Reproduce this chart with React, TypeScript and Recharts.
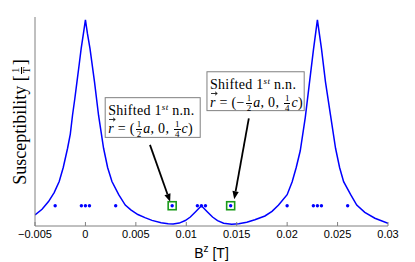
import React from 'react';
import { ComposedChart, Line, Scatter, XAxis, YAxis, ReferenceLine, ReferenceArea, Label } from 'recharts';

// susceptibility curve (arbitrary units, 0..1)
const curveX = [
  -0.005, -0.0043, -0.00366, -0.0031, -0.0026, -0.0022, -0.00177, -0.0015, -0.00128, -0.00105,
  -0.00084, -0.0006, -0.00042, -0.0002, 0, 0.0002, 0.00045, 0.0009, 0.0013, 0.0018,
  0.0022, 0.00263, 0.0033, 0.00395, 0.0045, 0.0052, 0.0059, 0.0066, 0.0075, 0.0082,
  0.0087, 0.0093, 0.0099, 0.0104, 0.0109, 0.0115, 0.0121, 0.0126, 0.0131, 0.0137,
  0.0145, 0.0152, 0.016, 0.0168, 0.0178, 0.0185, 0.01915, 0.02, 0.0205, 0.0209,
  0.0213, 0.0218, 0.0222, 0.0226, 0.023, 0.0234, 0.0238, 0.0243, 0.0248, 0.0252,
  0.0256, 0.0263, 0.0269, 0.0277, 0.0287, 0.03,
];
const curveY = [
  0.053, 0.08, 0.117, 0.16, 0.213, 0.28, 0.372, 0.44, 0.53, 0.61,
  0.69, 0.78, 0.85, 0.92, 0.986, 0.92, 0.85, 0.69, 0.53, 0.372,
  0.28, 0.213, 0.15, 0.1, 0.077, 0.055, 0.04, 0.027, 0.016, 0.011,
  0.01, 0.014, 0.026, 0.043, 0.067, 0.097, 0.067, 0.043, 0.026, 0.013,
  0.008, 0.011, 0.018, 0.03, 0.048, 0.07, 0.1, 0.15, 0.212, 0.28,
  0.36, 0.52, 0.68, 0.84, 0.986, 0.85, 0.69, 0.53, 0.372, 0.28,
  0.212, 0.15, 0.1, 0.065, 0.037, 0.013,
];

// transition fields (blue dots)
const dotX = [-0.003, -0.0004, 0, 0.0004, 0.003, 0.0086, 0.0111, 0.0115, 0.0119, 0.0144, 0.02, 0.0226, 0.023, 0.0234, 0.026];
const dotY = [0.097, 0.097, 0.097, 0.097, 0.097, 0.097, 0.097, 0.097, 0.097, 0.097, 0.097, 0.097, 0.097, 0.097, 0.097];

// shifted 1st n.n. (green squares)
const markedX = [0.0086, 0.0144];
const markedY = [0.097, 0.097];

const xTicks = [-0.005, 0, 0.005, 0.01, 0.015, 0.02, 0.025, 0.03];

// annotation boxes and arrows, in data units
const boxX1 = [0.00196, 0.01205];
const boxX2 = [0.01138, 0.02169];
const boxY1 = [0.424, 0.552];
const boxY2 = [0.614, 0.738];
const boxSign = ['', '\u2212'];
const arrowFromX = [0.0064, 0.0162];
const arrowFromY = [0.388, 0.515];
const arrowToX = [0.0084, 0.01475];
const arrowToY = [0.116, 0.128];

const curve = curveX.map((x, i) => ({ x, y: curveY[i] }));
const dots = dotX.map((x, i) => ({ x, y: dotY[i] }));
const marked = markedX.map((x, i) => ({ x, y: markedY[i] }));

const SERIF = '"Liberation Serif", "Times New Roman", serif';
const SANS = '"Liberation Sans", Arial, sans-serif';
const FRAME = '#808080';

function Frac({ n, d, size }: { n: string; d: string; size: number }) {
  return (
    <span
      style={{
        display: 'inline-flex',
        flexDirection: 'column',
        alignItems: 'center',
        verticalAlign: 'middle',
        fontSize: size,
        lineHeight: 1,
        margin: '0 1px',
        letterSpacing: 0,
      }}
    >
      <span style={{ borderBottom: '0.8px solid #000', padding: '0 1px' }}>{n}</span>
      <span style={{ padding: '0 1px' }}>{d}</span>
    </span>
  );
}

// italic r with a vector arrow drawn above it
function VecR() {
  return (
    <span style={{ position: 'relative', fontStyle: 'italic', display: 'inline-block' }}>
      r
      <svg width={7} height={5} style={{ position: 'absolute', left: 1, top: -2 }}>
        <line x1={0} y1={2.5} x2={6} y2={2.5} stroke="#000" strokeWidth={0.8} />
        <polyline points="4,0.8 6.3,2.5 4,4.2" fill="none" stroke="#000" strokeWidth={0.8} />
      </svg>
    </span>
  );
}

const makeBox = (sign: string) => (p: any) => {
  const { x, y, width, height } = p;
  return (
    <g>
      <rect x={x} y={y} width={width} height={height} fill="#fff" stroke={FRAME} strokeWidth={1} />
      <foreignObject x={x} y={y} width={width} height={height}>
        <div
          style={{
            fontFamily: SERIF,
            fontSize: 14,
            letterSpacing: 0.3,
            color: '#000',
            padding: '1px 0 0 3px',
            whiteSpace: 'nowrap',
          }}
        >
          <div style={{ lineHeight: '16px' }}>
            Shifted 1<sup style={{ fontSize: 9, fontStyle: 'italic', verticalAlign: 5 }}>st</sup> n.n.
          </div>
          <div style={{ lineHeight: '20px' }}>
            <VecR /> = ({sign}
            <Frac n="1" d="2" size={9} />
            <i>a</i>, 0, <Frac n="1" d="4" size={9} />
            <i>c</i>)
          </div>
        </div>
      </foreignObject>
    </g>
  );
};

const Arrow = (p: any) => {
  const { x1, y1, x2, y2 } = p;
  const a = Math.atan2(y2 - y1, x2 - x1);
  const len = 8;
  const w = 3.2;
  const bx = x2 - len * Math.cos(a);
  const by = y2 - len * Math.sin(a);
  const px = -Math.sin(a) * w;
  const py = Math.cos(a) * w;
  return (
    <g>
      <line x1={x1} y1={y1} x2={bx} y2={by} stroke="#000" strokeWidth={1.8} />
      <polygon points={`${x2},${y2} ${bx + px},${by + py} ${bx - px},${by - py}`} fill="#000" />
    </g>
  );
};

function YLabel() {
  return (
    <g transform="translate(20,122) rotate(-90)">
      <foreignObject x={-80} y={-13} width={160} height={26}>
        <div
          style={{
            fontFamily: SERIF,
            fontSize: 18,
            color: '#000',
            textAlign: 'center',
            lineHeight: '26px',
            whiteSpace: 'nowrap',
          }}
        >
          Susceptibility [<Frac n="1" d="T" size={10} />]
        </div>
      </foreignObject>
    </g>
  );
}

function XLabel(props: any) {
  const vb = props.viewBox || { x: 35, width: 353 };
  return (
    <text x={vb.x + vb.width / 2} y={258} textAnchor="middle" fontFamily={SANS} fontSize={14} fill="#000">
      B
      <tspan dy={-6} fontSize={10}>
        z
      </tspan>
      <tspan dy={6}> [T]</tspan>
    </text>
  );
}

const fmtTick = (v: number) => (v < 0 ? '\u2212' + String(-v) : String(v));

export default function App() {
  return (
    <div style={{ position: 'absolute', left: 0, top: 0, width: 415, height: 262, background: '#fff' }}>
      <ComposedChart width={415} height={262} margin={{ top: 17, right: 27, bottom: 0, left: 0 }}>
        <XAxis
          dataKey="x"
          type="number"
          domain={[-0.005, 0.03]}
          ticks={xTicks}
          allowDataOverflow
          height={36}
          stroke={FRAME}
          tickSize={-4}
          tickMargin={8}
          tickFormatter={fmtTick}
          tick={{ fill: '#000', fontFamily: SANS, fontSize: 11 }}
          label={<Label content={XLabel} />}
        />
        <XAxis
          xAxisId="top"
          orientation="top"
          dataKey="x"
          type="number"
          domain={[-0.005, 0.03]}
          ticks={xTicks}
          allowDataOverflow
          height={0}
          stroke={FRAME}
          tickSize={-4}
          tick={false}
        />
        <YAxis
          type="number"
          domain={[0, 1]}
          width={35}
          stroke={FRAME}
          tick={false}
          tickLine={false}
          allowDataOverflow
          label={<Label content={YLabel} />}
        />
        <YAxis
          yAxisId="right"
          orientation="right"
          type="number"
          domain={[0, 1]}
          width={0}
          stroke={FRAME}
          tick={false}
          tickLine={false}
        />
        <Line
          data={curve}
          dataKey="y"
          type="linear"
          stroke="#0000ff"
          strokeWidth={1.5}
          dot={false}
          activeDot={false}
          isAnimationActive={false}
        />
        <Scatter
          data={marked}
          dataKey="y"
          isAnimationActive={false}
          shape={(p: any) => (
            <rect x={p.cx - 4} y={p.cy - 4} width={8} height={8} fill="none" stroke="#1a9a1a" strokeWidth={1.6} />
          )}
        />
        <Scatter
          data={dots}
          dataKey="y"
          isAnimationActive={false}
          shape={(p: any) => <circle cx={p.cx} cy={p.cy} r={1.7} fill="#0000ff" />}
        />
        {boxX1.map((x1, i) => (
          <ReferenceArea
            key={'box' + i}
            x1={x1}
            x2={boxX2[i]}
            y1={boxY1[i]}
            y2={boxY2[i]}
            ifOverflow="visible"
            shape={makeBox(boxSign[i])}
          />
        ))}
        {arrowFromX.map((x, i) => (
          <ReferenceLine
            key={'arrow' + i}
            segment={[
              { x, y: arrowFromY[i] },
              { x: arrowToX[i], y: arrowToY[i] },
            ]}
            ifOverflow="visible"
            shape={Arrow}
          />
        ))}
      </ComposedChart>
    </div>
  );
}
